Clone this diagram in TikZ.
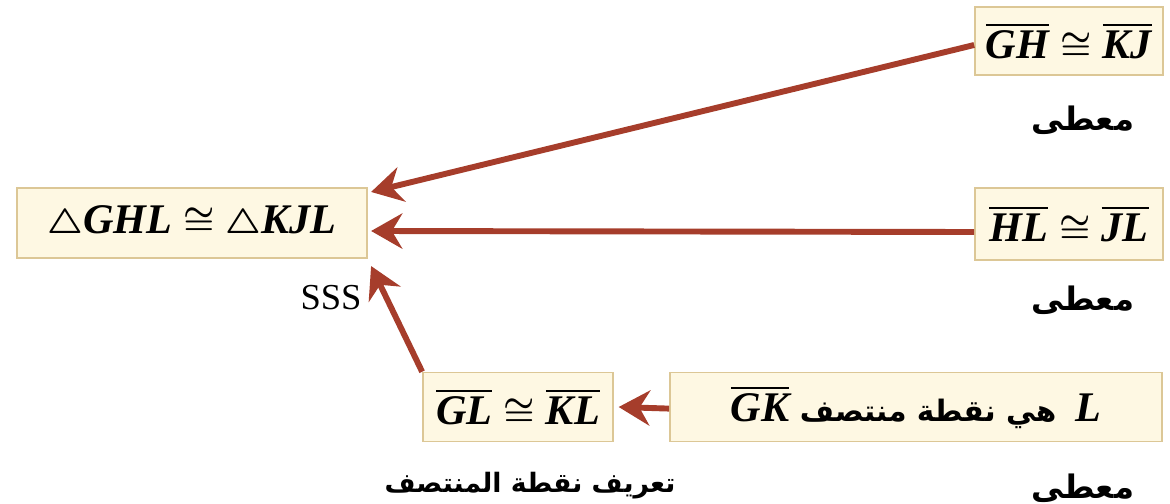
\documentclass[tikz,border=0pt]{standalone}
\usepackage{amsmath, amssymb}
\usepackage{fontspec}
\usepackage{xcolor}
\usetikzlibrary{arrows.meta, positioning}
\setmainfont{Liberation Serif}
\TeXXeTstate=1
\newfontfamily\arabicfont[Script=Arabic]{DejaVu Sans}
\definecolor{pfeilrot}{HTML}{A63D2B}
\definecolor{kastenbg}{HTML}{FEF8E3}
\definecolor{kastenrand}{HTML}{DCC796}
\newcommand{\strecke}[1]{\overline{\text{\bfseries\itshape #1}}}
\newcommand{\dreieck}[1]{\bigtriangleup\text{\bfseries\itshape #1}}
\tikzset{
  kasten/.style={draw=kastenrand, line width=1.2pt, fill=kastenbg, inner sep=0pt,
    minimum height=1.75cm, font=\fontsize{30}{36}\selectfont\boldmath},
  grund/.style={font=\fontsize{23}{28}\selectfont\arabicfont\bfseries},
  pfeil/.style={pfeilrot, line width=4.2pt,
    -{Stealth[length=0.78cm, width=0.88cm, inset=0.26cm]}},
}
\begin{document}
\begin{tikzpicture}[x=0.025cm, y=-0.025cm]
  \useasboundingbox (0,0) rectangle (1170,504);
  % Kaesten
  \node[kasten, minimum width=8.75cm] (main) at (192,223) {$\dreieck{GHL} \cong \dreieck{KJL}$};
  \node[kasten, minimum width=4.7cm, minimum height=1.7cm] (gh) at (1069,41) {$\strecke{GH} \cong \strecke{KJ}$};
  \node[kasten, minimum width=4.7cm, minimum height=1.8cm] (hl) at (1069,224) {$\strecke{HL} \cong \strecke{JL}$};
  \node[kasten, minimum width=4.75cm, minimum height=1.72cm] (gl) at (518,407) {$\strecke{GL} \cong \strecke{KL}$};
  \node[kasten, minimum width=12.3cm, minimum height=1.72cm] (mid) at (916,407)
    {$\strecke{GK}$ {\arabicfont\bfseries\fontsize{21}{26}\selectfont\beginR هي نقطة منتصف\endR}\hspace{0.45em}\textbf{\textit{L}}};
  % Begruendungen
  \node[grund] (given1) at (1083,120) {\beginR معطى\endR};
  \node[grund] (given2) at (1083,300) {\beginR معطى\endR};
  \node[grund] (given3) at (1083,488) {\beginR معطى\endR};
  \node[grund, font=\fontsize{19}{24}\selectfont\arabicfont\bfseries] (defmid) at (530,486) {\beginR تعريف نقطة المنتصف\endR};
  \node[font=\fontsize{26}{32}\selectfont] (sss) at (331,298) {SSS};
  % Pfeile
  \draw[pfeil] ([yshift=-0.1cm]gh.west) -- ([shift={(0.08cm,-0.12cm)}]main.north east);
  \draw[pfeil] ([yshift=-0.2cm]hl.west) -- ([shift={(0.08cm,-0.2cm)}]main.east);
  \draw[pfeil] (gl.north west) -- ([shift={(0.08cm,-0.18cm)}]main.south east);
  \draw[pfeil] ([yshift=-0.04cm]mid.west) -- ([xshift=0.12cm]gl.east);
\end{tikzpicture}
\end{document}
